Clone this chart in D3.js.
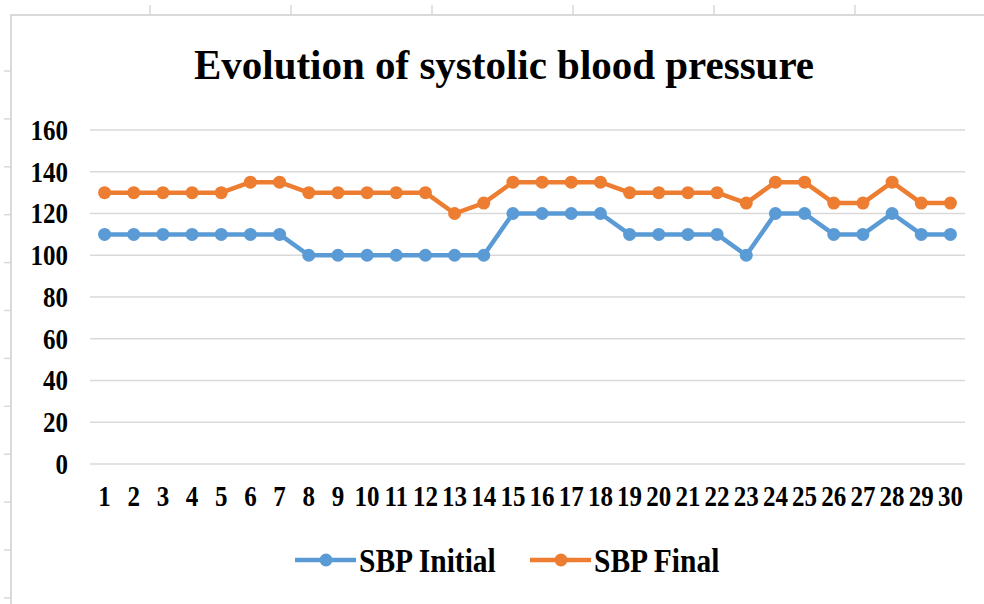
<!DOCTYPE html>
<html>
<head>
<meta charset="utf-8">
<script src="https://cdn.jsdelivr.net/npm/d3@7"></script>
<style>
  html, body { margin: 0; padding: 0; background: #fff; }
  svg { display: block; }
</style>
</head>
<body>
<svg id="chart" width="984" height="604"></svg>
<script>
const title = "Evolution of systolic blood pressure";
const categories = d3.range(1, 31).map(String);
const sbpInitial = [110,110,110,110,110,110,110,100,100,100,100,100,100,100,120,120,120,120,110,110,110,110,100,120,120,110,110,120,110,110];
const sbpFinal   = [130,130,130,130,130,135,135,130,130,130,130,130,120,125,135,135,135,135,130,130,130,130,125,135,135,125,125,135,125,125];
const yTicks = [0,20,40,60,80,100,120,140,160];
const seriesNames = ["SBP Initial", "SBP Final"];
const seriesColors = ["#5b9bd5", "#ed7d31"];

const FONT = "'Liberation Serif', 'Times New Roman', Tinos, serif";
const svg = d3.select("#chart");
const W = 984, H = 604;
const plot = { left: 90, right: 965, top: 130, bottom: 464 };

// frame decoration (worksheet-like border with ruler ticks)
const frame = svg.append("g").attr("stroke", "#d9d9d9").attr("stroke-width", 2);
frame.append("line").attr("x1", 10).attr("x2", W).attr("y1", 15).attr("y2", 15);
frame.append("line").attr("x1", 11).attr("x2", 11).attr("y1", 15).attr("y2", H);
const topTickStep = 141, leftTickStep = 47.9;
d3.range(1, 7).forEach(i => {
  const x = 9 + i * topTickStep;
  frame.append("line").attr("x1", x).attr("x2", x).attr("y1", 5).attr("y2", 15).attr("stroke-width", 1.5);
});
d3.range(0, 12).forEach(i => {
  const y = 71 + i * leftTickStep;
  frame.append("line").attr("x1", 4).attr("x2", 11).attr("y1", y).attr("y2", y).attr("stroke-width", 1.5);
});

const x = d3.scaleBand().domain(categories).range([plot.left, plot.right]).padding(0);
const y = d3.scaleLinear().domain([0, 160]).range([plot.bottom, plot.top]);

// gridlines
svg.append("g")
  .selectAll("line").data(yTicks).join("line")
  .attr("x1", plot.left).attr("x2", plot.right)
  .attr("y1", d => y(d)).attr("y2", d => y(d))
  .attr("stroke", "#d9d9d9").attr("stroke-width", 1.5);

const sy = 1.15;
// y labels
svg.append("g")
  .selectAll("text").data(yTicks).join("text")
  .attr("font-family", FONT).attr("font-weight", "bold")
  .attr("text-anchor", "end")
  .attr("font-size", 25)
  .attr("transform", d => `translate(68,${y(d) + 8.5 * sy}) scale(1,${sy})`)
  .text(d => d);

// x labels
svg.append("g")
  .selectAll("text").data(categories).join("text")
  .attr("font-family", FONT).attr("font-weight", "bold")
  .attr("text-anchor", "middle")
  .attr("font-size", 25)
  .attr("transform", d => `translate(${x(d) + x.bandwidth() / 2},506) scale(1,${sy})`)
  .text(d => d);

// series
const series = [sbpInitial, sbpFinal];
series.forEach((vals, i) => {
  const pts = vals.map((v, j) => [x(categories[j]) + x.bandwidth() / 2, y(v)]);
  svg.append("path")
    .attr("d", d3.line()(pts))
    .attr("fill", "none")
    .attr("stroke", seriesColors[i])
    .attr("stroke-width", 4.5)
    .attr("stroke-linejoin", "round");
  svg.append("g").selectAll("circle").data(pts).join("circle")
    .attr("cx", d => d[0]).attr("cy", d => d[1]).attr("r", 6.5)
    .attr("fill", seriesColors[i]);
});

// title
svg.append("text")
  .attr("font-family", FONT).attr("font-weight", "bold")
  .attr("text-anchor", "middle")
  .attr("font-size", 41)
  .attr("transform", "translate(504,79) scale(1,1.05)")
  .text(title);

// legend
const legendX = [295, 530];
seriesNames.forEach((name, i) => {
  const g = svg.append("g").attr("transform", `translate(${legendX[i]},560)`);
  g.append("line").attr("x1", 0).attr("x2", 61).attr("y1", 0).attr("y2", 0)
    .attr("stroke", seriesColors[i]).attr("stroke-width", 4.5);
  g.append("circle").attr("cx", 31).attr("cy", 0).attr("r", 6.5).attr("fill", seriesColors[i]);
  g.append("text")
    .attr("font-family", FONT).attr("font-weight", "bold")
    .attr("font-size", 29.5)
    .attr("transform", `translate(64,${10 * sy}) scale(1,${sy})`)
    .text(name);
});
</script>
</body>
</html>
